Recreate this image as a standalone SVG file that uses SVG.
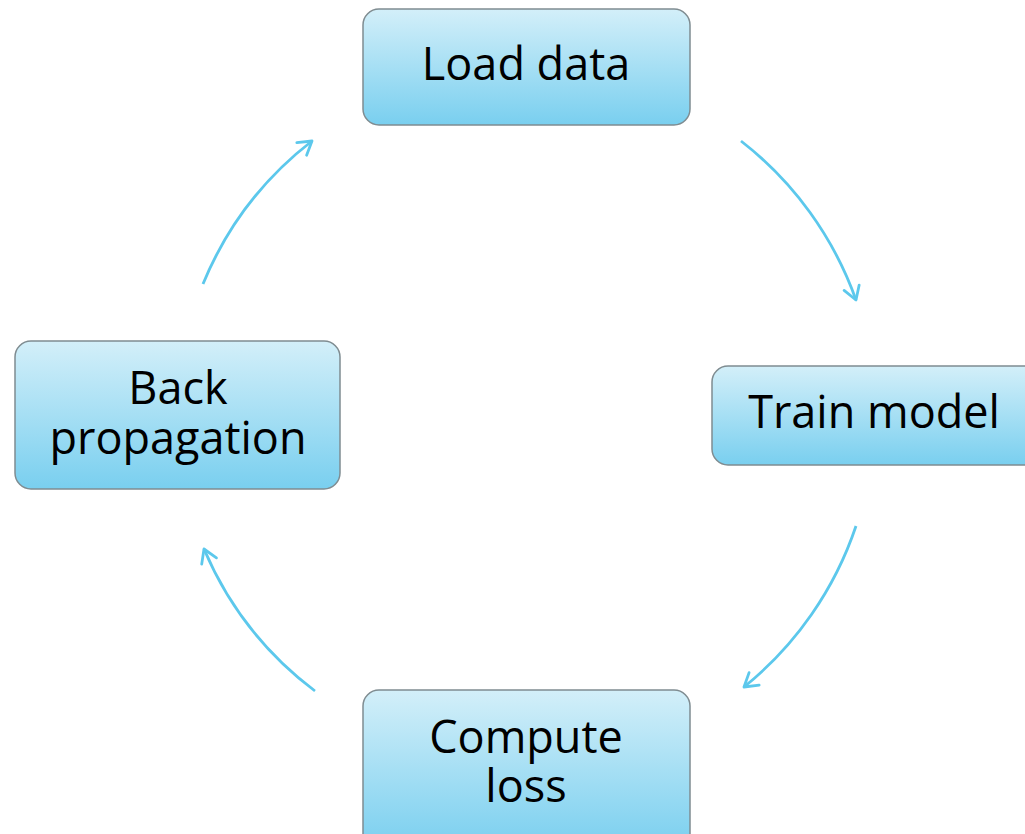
<svg xmlns="http://www.w3.org/2000/svg" width="1025" height="834" viewBox="0 0 1025 834">
<defs>
<linearGradient id="g" x1="0" y1="0" x2="0" y2="1">
<stop offset="0" stop-color="#d3eff9"/>
<stop offset="1" stop-color="#79cfef"/>
</linearGradient>
<marker id="ah" viewBox="-16 -10 20 20" markerWidth="20" markerHeight="20" refX="0" refY="0" orient="auto" markerUnits="userSpaceOnUse">
<path d="M -13 -8 L 0 0 L -13 8" fill="none" stroke="#5cc8ec" stroke-width="2.8" stroke-linecap="round" stroke-linejoin="round"/>
</marker>
<style>
.box{fill:url(#g);stroke:#7f8c91;stroke-width:1.5}
.t{font-family:"Open Sans",Lato,sans-serif;font-size:45px;fill:#000;text-anchor:middle}
.c{fill:none;stroke:#5cc8ec;stroke-width:2.8;marker-end:url(#ah)}
</style>
</defs>
<rect width="1025" height="834" fill="#fff"/>
<g id="connectors">
<path class="c" d="M 741 141 A 350 350 0 0 1 856 300"/>
<path class="c" d="M 856 526 A 350 350 0 0 1 744 687"/>
<path class="c" d="M 315 691 A 348 348 0 0 1 204 549"/>
<path class="c" d="M 203 284 A 348 348 0 0 1 312 141"/>
</g>
<g id="load-data">
<rect class="box" x="363" y="9" width="327" height="116" rx="16"/>
<text class="t" x="526" y="80">Load data</text>
</g>
<g id="train-model">
<rect class="box" x="712" y="366" width="330" height="99" rx="16"/>
<text class="t" x="874" y="428">Train model</text>
</g>
<g id="compute-loss">
<rect class="box" x="363" y="690" width="327" height="160" rx="16"/>
<text class="t" x="526" y="753">Compute</text>
<text class="t" x="526" y="802">loss</text>
</g>
<g id="back-propagation">
<rect class="box" x="15" y="341" width="325" height="148" rx="16"/>
<text class="t" x="178" y="404">Back</text>
<text class="t" x="178" y="454">propagation</text>
</g>
</svg>
